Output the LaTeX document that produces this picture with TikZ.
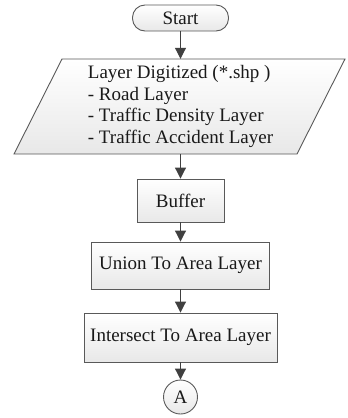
\documentclass[tikz,border=0pt]{standalone}
\usepackage{fontspec}
\setmainfont{Liberation Serif}
\usetikzlibrary{arrows.meta}
\begin{document}
\begin{tikzpicture}[x=1pt,y=-1pt,
  txt/.style={font=\fontsize{19}{21.7}\selectfont, text=black!90},
  box/.style={txt, draw=black!65, line width=0.9pt, top color=white, bottom color=black!9, inner sep=0pt},
  arr/.style={draw=black!75, line width=1pt, -{Triangle[length=11pt,width=11pt]}}]
\useasboundingbox (0,0) rectangle (348,418);
\node[box, rounded corners=12.5pt, minimum width=96pt, minimum height=26pt] (start) at (180.5,18) {Start};
\path[box] (62,59) -- (345,59) -- (297,154) -- (14,154) -- cycle;
\node[txt, align=left, inner sep=0pt, minimum height=95pt] (para) at (180.5,106.5)
  {Layer Digitized (*.shp )\\- Road Layer\\- Traffic Density Layer\\- Traffic Accident Layer};
\node[box, minimum width=87pt, minimum height=43pt] (buffer) at (180.5,200.5) {Buffer};
\node[box, minimum width=178pt, minimum height=47pt] (union) at (180.5,265.5) {Union To Area Layer};
\node[box, minimum width=193pt, minimum height=49pt] (inter) at (180.5,337.5) {Intersect To Area Layer};
\node[box, circle, minimum size=34pt] (a) at (180.5,397) {A};
\draw[arr] (start) -- (para);
\draw[arr] (para) -- (buffer);
\draw[arr] (buffer) -- (union);
\draw[arr] (union) -- (inter);
\draw[arr] (inter) -- (a);
\end{tikzpicture}
\end{document}
